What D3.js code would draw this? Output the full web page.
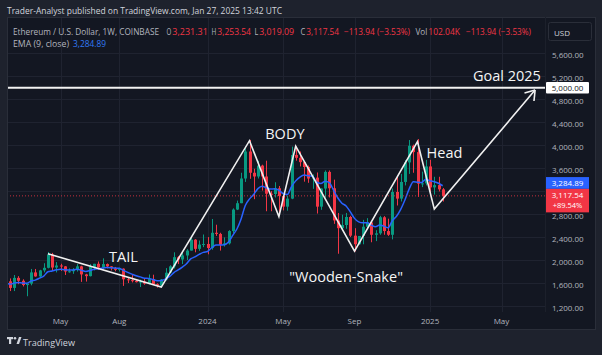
<!DOCTYPE html>
<html><head><meta charset="utf-8">
<script src="https://cdn.jsdelivr.net/npm/d3@7"></script>
<style>html,body{margin:0;padding:0;background:#1e222d;overflow:hidden}svg{display:block}</style>
</head><body><svg id="c" width="602" height="355"></svg>
<script>
// ---------- data ----------
const firstWeek = "2023-01-23";
const lastWeek = "2025-01-27";
const opens = [1628,1585,1630,1515,1690,1640,1565,1590,1785,1715,1820,1865,2095,1870,1905,1890,1800,1805,1830,1890,1750,1720,1880,1935,1870,1930,1890,1860,1830,1850,1665,1650,1635,1615,1625,1590,1670,1580,1555,1660,1780,1890,2050,2010,2080,2165,2355,2195,2270,
 2280,2210,2475,2455,2265,2290,2505,2880,2990,3420,3890,3520,3455,3645,3455,3155,3150,3250,3115,2930,3070,3830,3780,3705,3620,3420,3435,2930,3245,3535,3250,2690,2555,2610,2750,2425,2275,2420,2580,2655,2440,2465,2745,2505,2440,3185,3070,3360,3700,3990,3880,3330,3335,3630,3265,3305,3231.31];
const highs = [1665,1715,1680,1740,1720,1665,1585,1845,1845,1830,1945,2140,2125,1965,1935,1895,1855,1860,1930,1900,1760,1930,1935,1975,2030,1940,1895,1880,1865,1855,1700,1745,1660,1660,1680,1750,1745,1595,1670,1860,1910,2135,2070,2135,2190,2400,2365,2340,2445,
 2400,2715,2615,2475,2395,2520,2900,3035,3520,3950,4093,3590,3730,3660,3730,3200,3355,3290,3125,3120,3975,3980,3890,3710,3645,3490,3525,3250,3560,3560,3400,2820,2790,2820,2770,2555,2400,2700,2730,2670,2520,2770,2765,2720,3245,3450,3500,3740,4090,4010,4107,3540,3745,3745,3450,3450,3253.54];
const lows = [1535,1560,1460,1460,1580,1540,1370,1560,1710,1685,1785,1855,1810,1785,1810,1740,1780,1760,1800,1620,1625,1715,1820,1830,1835,1855,1820,1805,1800,1550,1600,1610,1610,1530,1570,1580,1570,1520,1530,1645,1770,1855,1930,1930,2000,2165,2135,2160,2225,
 2100,2180,2420,2165,2235,2270,2465,2870,2990,3360,3415,3060,3420,3210,2850,2850,3090,2810,2865,2860,3060,3730,3630,3365,3345,3240,2810,2875,3085,3090,2630,2110,2520,2545,2400,2150,2265,2275,2545,2310,2330,2440,2440,2420,2360,2950,3020,3300,3500,3520,3100,3270,3300,3160,3140,3195,3019.09];
const closes = [1585,1630,1515,1690,1640,1565,1590,1785,1715,1820,1865,2095,1870,1905,1890,1800,1805,1830,1890,1750,1720,1880,1935,1870,1930,1890,1860,1830,1850,1665,1650,1635,1615,1625,1590,1670,1580,1555,1660,1780,1890,2050,2010,2080,2165,2355,2195,2270,2280,
 2210,2475,2455,2265,2290,2505,2880,2990,3420,3890,3520,3455,3645,3455,3155,3150,3250,3115,2930,3070,3830,3780,3705,3620,3420,3435,2930,3245,3535,3250,2690,2555,2610,2750,2425,2275,2420,2580,2655,2440,2465,2745,2505,2440,3185,3070,3360,3700,3990,3880,3330,3335,3630,3265,3305,3231.31,3117.54];

const timeTicks = ["2023-05-01","2023-08-07","2024-01-01","2024-05-06","2024-09-02","2025-01-06","2025-05-05"];
const timeTickLabels = ["May","Aug","2024","May","Sep","2025","May"];
const priceTicks = [1200,1600,2000,2400,2800,3200,3600,4000,4400,4800,5200,5600];
const priceTicksLabelled = [1200,1600,2000,2400,2800,3600,4000,4400,4800,5200,5600]; // 3,200 is hidden behind the price tags
const goalPrice = 5000;
const emaLast = 3284.89;
const lastClose = 3117.54;
const changePct = "+89.54%";

// hand-drawn pattern line (date, price)
const patternDates = ["2023-04-10","2023-10-16","2024-03-11","2024-04-29","2024-05-27","2024-09-02","2024-12-16","2025-01-13","2025-06-30"];
const patternPrices = [2110,1530,4078,2757,3983,2157,4061,2887,4960];

const noteTexts = ["TAIL","BODY","Head","\"Wooden-Snake\"","Goal 2025"];
const noteDates = ["2023-08-14","2024-05-09","2025-01-30","2024-08-19","2025-05-14"];
const notePrices = [2070,4212,3881,1720,5205];

// ---------- layout ----------
const W=602,H=355;
const panel={x:7,y:17,w:588,h:312};
const plot={x0:7,x1:545,y0:17,y1:312};
const UP="#089981", DOWN="#f23645", EMA="#2962ff";
const FONT="'Open Sans','Noto Sans',sans-serif";

const svg=d3.select("#c");
svg.append("rect").attr("width",W).attr("height",H).attr("fill","#1e222d");
svg.append("rect").attr("x",panel.x+0.5).attr("y",panel.y+0.5).attr("width",panel.w).attr("height",panel.h)
  .attr("fill","#131722").attr("stroke","#2a2e39");

const parse=d3.utcParse("%Y-%m-%d");
const weeks=d3.utcMonday.range(parse(firstWeek), d3.utcDay.offset(parse(lastWeek),1));

const x=d3.scaleUtc().domain([parse("2024-01-01"),parse("2025-01-06")]).range([207.5,430.1]);
const y=d3.scaleLinear().domain([1200,5600]).range([306,53.3]);
const barW=3;

const defs=svg.append("defs");
defs.append("clipPath").attr("id","clip").append("rect")
  .attr("x",plot.x0+1).attr("y",plot.y0+1).attr("width",plot.x1-plot.x0-1).attr("height",plot.y1-plot.y0);

// grid
const grid=svg.append("g").attr("clip-path","url(#clip)");
grid.selectAll("line.h").data(priceTicks).join("line")
  .attr("x1",plot.x0).attr("x2",plot.x1).attr("y1",d=>Math.round(y(d))+0.5).attr("y2",d=>Math.round(y(d))+0.5)
  .attr("stroke","#1f2330");
grid.selectAll("line.v").data(timeTicks).join("line")
  .attr("y1",plot.y0).attr("y2",plot.y1).attr("x1",d=>Math.round(x(parse(d)))+0.5).attr("x2",d=>Math.round(x(parse(d)))+0.5)
  .attr("stroke","#1f2330");

svg.append("line").attr("x1",plot.x1+0.5).attr("x2",plot.x1+0.5).attr("y1",plot.y0).attr("y2",plot.y1).attr("stroke","#1c202b");

const g=svg.append("g").attr("clip-path","url(#clip)");

// candles
const bars=weeks.map((d,i)=>({d,o:opens[i],h:highs[i],l:lows[i],c:closes[i]}));
g.selectAll("line.wick").data(bars).join("line")
  .attr("x1",b=>Math.round(x(b.d))+0.5).attr("x2",b=>Math.round(x(b.d))+0.5)
  .attr("y1",b=>y(b.h)).attr("y2",b=>y(b.l))
  .attr("stroke",b=>b.c>=b.o?UP:DOWN).attr("stroke-width",1);
g.selectAll("rect.body").data(bars).join("rect")
  .attr("x",b=>Math.round(x(b.d))-1).attr("width",barW)
  .attr("y",b=>y(Math.max(b.o,b.c))).attr("height",b=>Math.max(1,Math.abs(y(b.o)-y(b.c))))
  .attr("fill",b=>b.c>=b.o?UP:DOWN);

// EMA(9, close)
const emaVals=[];
closes.forEach((c,i)=>{emaVals.push(i===0?c:emaVals[i-1]+(c-emaVals[i-1])*0.2);});
g.append("path").datum(weeks.map((d,i)=>[d,emaVals[i]]))
  .attr("fill","none").attr("stroke",EMA).attr("stroke-width",1.5)
  .attr("d",d3.line().x(p=>x(p[0])).y(p=>y(p[1])).curve(d3.curveMonotoneX));

// current price dotted line
g.append("line").attr("x1",plot.x0).attr("x2",plot.x1).attr("y1",y(lastClose)).attr("y2",y(lastClose))
  .attr("stroke",DOWN).attr("stroke-dasharray","1,2").attr("stroke-width",1).attr("opacity",0.8);

// goal line
g.append("line").attr("x1",plot.x0).attr("x2",plot.x1).attr("y1",y(goalPrice)).attr("y2",y(goalPrice))
  .attr("stroke","#f2f2f2").attr("stroke-width",2);

// pattern polyline
const pts=patternDates.map((d,i)=>[x(parse(d)),y(patternPrices[i])]);
g.append("path").datum(pts).attr("fill","none").attr("stroke","#f0f0f0").attr("stroke-width",1.6)
  .attr("stroke-linejoin","miter").attr("d",d3.line());
const tip=pts[pts.length-1], prev=pts[pts.length-2];
const ang=Math.atan2(tip[1]-prev[1],tip[0]-prev[0]);
[ang+Math.PI-0.6, ang+Math.PI+0.6].forEach(a=>{
  g.append("line").attr("x1",tip[0]).attr("y1",tip[1])
   .attr("x2",tip[0]+11*Math.cos(a)).attr("y2",tip[1]+11*Math.sin(a))
   .attr("stroke","#f0f0f0").attr("stroke-width",1.6);
});

// notes
g.selectAll("text.note").data(noteTexts).join("text")
  .attr("x",(t,i)=>x(parse(noteDates[i]))).attr("y",(t,i)=>y(notePrices[i]))
  .attr("text-anchor","middle").attr("dominant-baseline","central")
  .attr("fill","#f5f5f5").attr("font-family",FONT).attr("font-size",14.5)
  .text(t=>t);

// price axis labels
svg.selectAll("text.py").data(priceTicksLabelled).join("text")
  .attr("x",552).attr("y",d=>y(d)+1).attr("dominant-baseline","central")
  .attr("fill","#b2b5be").attr("font-family",FONT).attr("font-size",8)
  .text(d=>d3.format(",.2f")(d));

// time axis labels
svg.selectAll("text.tx").data(timeTicks).join("text")
  .attr("x",d=>x(parse(d))).attr("y",320).attr("text-anchor","middle").attr("dominant-baseline","central")
  .attr("fill","#b2b5be").attr("font-family",FONT).attr("font-size",8)
  .text((d,i)=>timeTickLabels[i]);

// goal label
svg.append("rect").attr("x",546).attr("y",y(goalPrice)-5.8).attr("width",43).attr("height",11.6).attr("fill","#ffffff").attr("rx",1);
svg.append("text").attr("x",567.5).attr("y",y(goalPrice)).attr("text-anchor","middle").attr("dominant-baseline","central")
  .attr("fill","#131722").attr("font-family",FONT).attr("font-size",8).text(d3.format(",.2f")(goalPrice));

// EMA tag and last price tag
const redTop=y(lastClose)-7;
svg.append("rect").attr("x",546).attr("y",redTop-11.8).attr("width",43).attr("height",11.8).attr("fill",EMA);
svg.append("text").attr("x",567.5).attr("y",redTop-5.9).attr("text-anchor","middle").attr("dominant-baseline","central")
  .attr("fill","#ffffff").attr("font-family",FONT).attr("font-size",8).text(d3.format(",.2f")(emaLast));
svg.append("rect").attr("x",546).attr("y",redTop).attr("width",43).attr("height",23.5).attr("fill",DOWN);
svg.append("text").attr("x",567.5).attr("y",redTop+6).attr("text-anchor","middle").attr("dominant-baseline","central")
  .attr("fill","#ffffff").attr("font-family",FONT).attr("font-size",8).text(d3.format(",.2f")(lastClose));
svg.append("text").attr("x",567.5).attr("y",redTop+16.5).attr("text-anchor","middle").attr("dominant-baseline","central")
  .attr("fill","#ffffff").attr("font-family",FONT).attr("font-size",7.5).text(changePct);

// USD button
svg.append("rect").attr("x",548.5).attr("y",22.5).attr("width",43).attr("height",18).attr("rx",2)
  .attr("fill","#131722").attr("stroke","#2a2e39");
svg.append("text").attr("x",554).attr("y",32).attr("dominant-baseline","central")
  .attr("fill","#d1d4dc").attr("font-family",FONT).attr("font-size",8).text("USD");

// header
svg.append("text").attr("x",7).attr("y",10).attr("dominant-baseline","central")
  .attr("fill","#d1d4dc").attr("font-family",FONT).attr("font-size",9).attr("textLength",275).attr("lengthAdjust","spacingAndGlyphs")
  .text("Trader-Analyst published on TradingView.com, Jan 27, 2025 13:42 UTC");

const legend=[
  {t:"Ethereum / U.S. Dollar, 1W, COINBASE",x:13,w:146,c:"#b2b5be"},
  {t:"O",x:166.5,w:4.8,c:"#b2b5be"},{t:"3,231.31",x:172.3,w:35.5,c:DOWN},
  {t:"H",x:211.5,w:4.8,c:"#b2b5be"},{t:"3,253.54",x:217.3,w:33.7,c:DOWN},
  {t:"L",x:254.5,w:3.8,c:"#b2b5be"},{t:"3,019.09",x:259.3,w:34.7,c:DOWN},
  {t:"C",x:300.5,w:4.8,c:"#b2b5be"},{t:"3,117.54",x:306.3,w:32.7,c:DOWN},
  {t:"\u2212113.94 (\u22123.53%)",x:344,w:66,c:DOWN},
  {t:"Vol",x:415.5,w:11.8,c:"#b2b5be"},{t:"102.04K",x:428.3,w:31.7,c:DOWN},
  {t:"\u2212113.94 (\u22123.53%)",x:466,w:65,c:DOWN}
];
svg.selectAll("text.lg").data(legend).join("text")
  .attr("x",d=>d.x).attr("y",31).attr("dominant-baseline","central")
  .attr("fill",d=>d.c).attr("font-family",FONT).attr("font-size",8.5)
  .attr("textLength",d=>d.w).attr("lengthAdjust","spacingAndGlyphs").text(d=>d.t);
svg.append("text").attr("x",13).attr("y",43).attr("dominant-baseline","central")
  .attr("fill","#b2b5be").attr("font-family",FONT).attr("font-size",8.5).attr("textLength",56).attr("lengthAdjust","spacingAndGlyphs").text("EMA (9, close)");
svg.append("text").attr("x",73).attr("y",43).attr("dominant-baseline","central")
  .attr("fill","#3179f5").attr("font-family",FONT).attr("font-size",8.5).attr("textLength",33).attr("lengthAdjust","spacingAndGlyphs").text(d3.format(",.2f")(emaLast));

// footer logo
const logo=svg.append("g").attr("transform","translate(7,337)");
logo.append("rect").attr("x",0).attr("y",0).attr("width",6).attr("height",2.2).attr("fill","#d1d4dc");
logo.append("rect").attr("x",2).attr("y",0).attr("width",2.2).attr("height",7).attr("fill","#d1d4dc");
logo.append("circle").attr("cx",8).attr("cy",1.3).attr("r",1.3).attr("fill","#d1d4dc");
logo.append("path").attr("d","M9.5,7 L12,0 L14.5,0 L12,7 Z").attr("fill","#d1d4dc");
svg.append("text").attr("x",23).attr("y",342).attr("dominant-baseline","central")
  .attr("fill","#d1d4dc").attr("font-family",FONT).attr("font-size",9.5).attr("textLength",52).attr("lengthAdjust","spacingAndGlyphs").text("TradingView");
</script></body></html>
